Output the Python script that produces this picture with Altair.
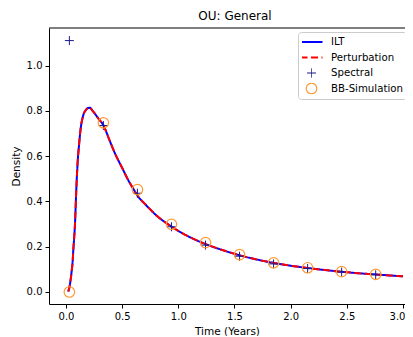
import altair as alt
import pandas as pd

# ---- data ----
curve_t = [0.02, 0.03, 0.04, 0.05, 0.06, 0.065, 0.07, 0.08, 0.09, 0.095, 0.104, 0.116,
           0.131, 0.154, 0.178, 0.208, 0.243, 0.29, 0.332, 0.39, 0.436, 0.5, 0.554,
           0.6, 0.643, 0.7, 0.763, 0.8, 0.9, 1.0, 1.2, 1.4, 1.6, 1.8, 2.0, 2.2, 2.4,
           2.6, 2.8, 3.0]
ilt_vals = [0.002, 0.02, 0.05, 0.09, 0.14, 0.185, 0.22, 0.30, 0.43, 0.49, 0.575, 0.649,
            0.723, 0.781, 0.804, 0.814, 0.796, 0.765, 0.737, 0.667, 0.612, 0.548, 0.494,
            0.455, 0.421, 0.39, 0.358, 0.34, 0.302, 0.27, 0.22, 0.184, 0.155, 0.133,
            0.116, 0.103, 0.092, 0.083, 0.076, 0.069]
pert_vals = list(ilt_vals)

spec_t = [0.03, 0.333, 0.636, 0.939, 1.242, 1.545, 1.848, 2.151, 2.454, 2.757]
spec_vals = [1.11, 0.735, 0.436, 0.288, 0.207, 0.158, 0.124, 0.104, 0.088, 0.076]
bb_t = list(spec_t)
bb_vals = [0.0, 0.747, 0.452, 0.299, 0.218, 0.165, 0.129, 0.107, 0.090, 0.078]

series_names = ["ILT", "Perturbation", "Spectral", "BB-Simulation"]
series_colors = ["#0000ff", "#ff0000", "#1a1a8c", "#ff9a33"]
x_ticks = [0.0, 0.5, 1.0, 1.5, 2.0, 2.5, 3.0]
y_ticks = [0.0, 0.2, 0.4, 0.6, 0.8, 1.0]

ilt_df = pd.DataFrame({"t": curve_t, "v": ilt_vals, "series": "ILT"})
pert_df = pd.DataFrame({"t": curve_t, "v": pert_vals, "series": "Perturbation"})
spec_df = pd.DataFrame({"t": spec_t, "v": spec_vals, "series": "Spectral"})
bb_df = pd.DataFrame({"t": bb_t, "v": bb_vals, "series": "BB-Simulation"})

FONT = "DejaVu Sans"

legend = alt.Legend(title=None, orient="none", legendX=249, legendY=4)

x_enc = alt.X("t:Q",
              scale=alt.Scale(domain=[-0.1513, 3.018], nice=False, zero=False),
              axis=alt.Axis(values=x_ticks, format=".1f", title="Time (Years)", grid=False,
                            labelFlush=5, labelFlushOffset=2))
y_enc = alt.Y("v:Q",
              scale=alt.Scale(domain=[-0.053, 1.1656], nice=False, zero=False),
              axis=alt.Axis(values=y_ticks, format=".1f", title="Density", grid=False))
color_enc = alt.Color("series:N",
                      scale=alt.Scale(domain=series_names, range=series_colors),
                      legend=legend)
dash_enc = alt.StrokeDash("series:N",
                          scale=alt.Scale(domain=series_names,
                                          range=[[1, 0], [7, 3.5], [1, 0], [1, 0]]),
                          legend=legend)
width_enc = alt.StrokeWidth("series:N",
                            scale=alt.Scale(type="ordinal", domain=series_names,
                                            range=[2, 2, 1, 1.2]),
                            legend=legend)
shape_enc = alt.Shape("series:N",
                      scale=alt.Scale(domain=series_names,
                                      range=["M-2.2,0H2.2", "M-2.2,0H2.2",
                                             "M-0.9,0H0.9M0,-0.9V0.9", "circle"]),
                      legend=legend)
size_enc = alt.Size("series:N",
                    scale=alt.Scale(type="ordinal", domain=series_names,
                                    range=[100, 100, 100, 110]),
                    legend=legend)

ilt = alt.Chart(ilt_df).mark_line(interpolate="monotone").encode(
    x=x_enc, y=y_enc, color=color_enc, strokeDash=dash_enc, strokeWidth=width_enc)
pert = alt.Chart(pert_df).mark_line(interpolate="monotone").encode(
    x=x_enc, y=y_enc, color=color_enc, strokeDash=dash_enc, strokeWidth=width_enc)
spec = alt.Chart(spec_df).mark_point(filled=False, opacity=1).encode(
    x=x_enc, y=y_enc, color=color_enc, shape=shape_enc, size=size_enc, strokeWidth=width_enc)
bb = alt.Chart(bb_df).mark_point(filled=False, opacity=1).encode(
    x=x_enc, y=y_enc, color=color_enc, shape=shape_enc, size=size_enc, strokeWidth=width_enc)

top_spine = alt.Chart(pd.DataFrame({"a": [0]})).mark_rule(color="#000000", strokeWidth=1).encode(
    y=alt.value(0))

chart = alt.layer(ilt, pert, spec, bb, top_spine).properties(
    width=356,
    height=276,
    title=alt.TitleParams("OU: General", font=FONT, fontSize=12, fontWeight="normal",
                          color="#000000", anchor="middle", offset=5, dx=8),
    padding={"left": 41, "top": 20, "right": 0, "bottom": 32},
    autosize=alt.AutoSizeParams(type="none"),
).configure_view(stroke=None).configure_axis(
    domainColor="#000000", tickColor="#000000", domainWidth=1, tickWidth=1, tickSize=4,
    labelFont=FONT, labelFontSize=10, labelColor="#000000", labelPadding=3,
    titleFont=FONT, titleFontSize=10.5, titleFontWeight="normal", titleColor="#000000",
    titlePadding=5,
).configure_axisY(labelPadding=3, titlePadding=5).configure_legend(
    labelFont=FONT, labelFontSize=10.2, labelColor="#000000",
    symbolSize=100, symbolOffset=3.5, labelOffset=13.5,
    padding=4, rowPadding=3.5, clipHeight=12, fillColor="rgba(255,255,255,0.8)",
    strokeColor="#cccccc", cornerRadius=3,
)

chart.save("out.html", embed_options={"renderer": "svg", "actions": False})
